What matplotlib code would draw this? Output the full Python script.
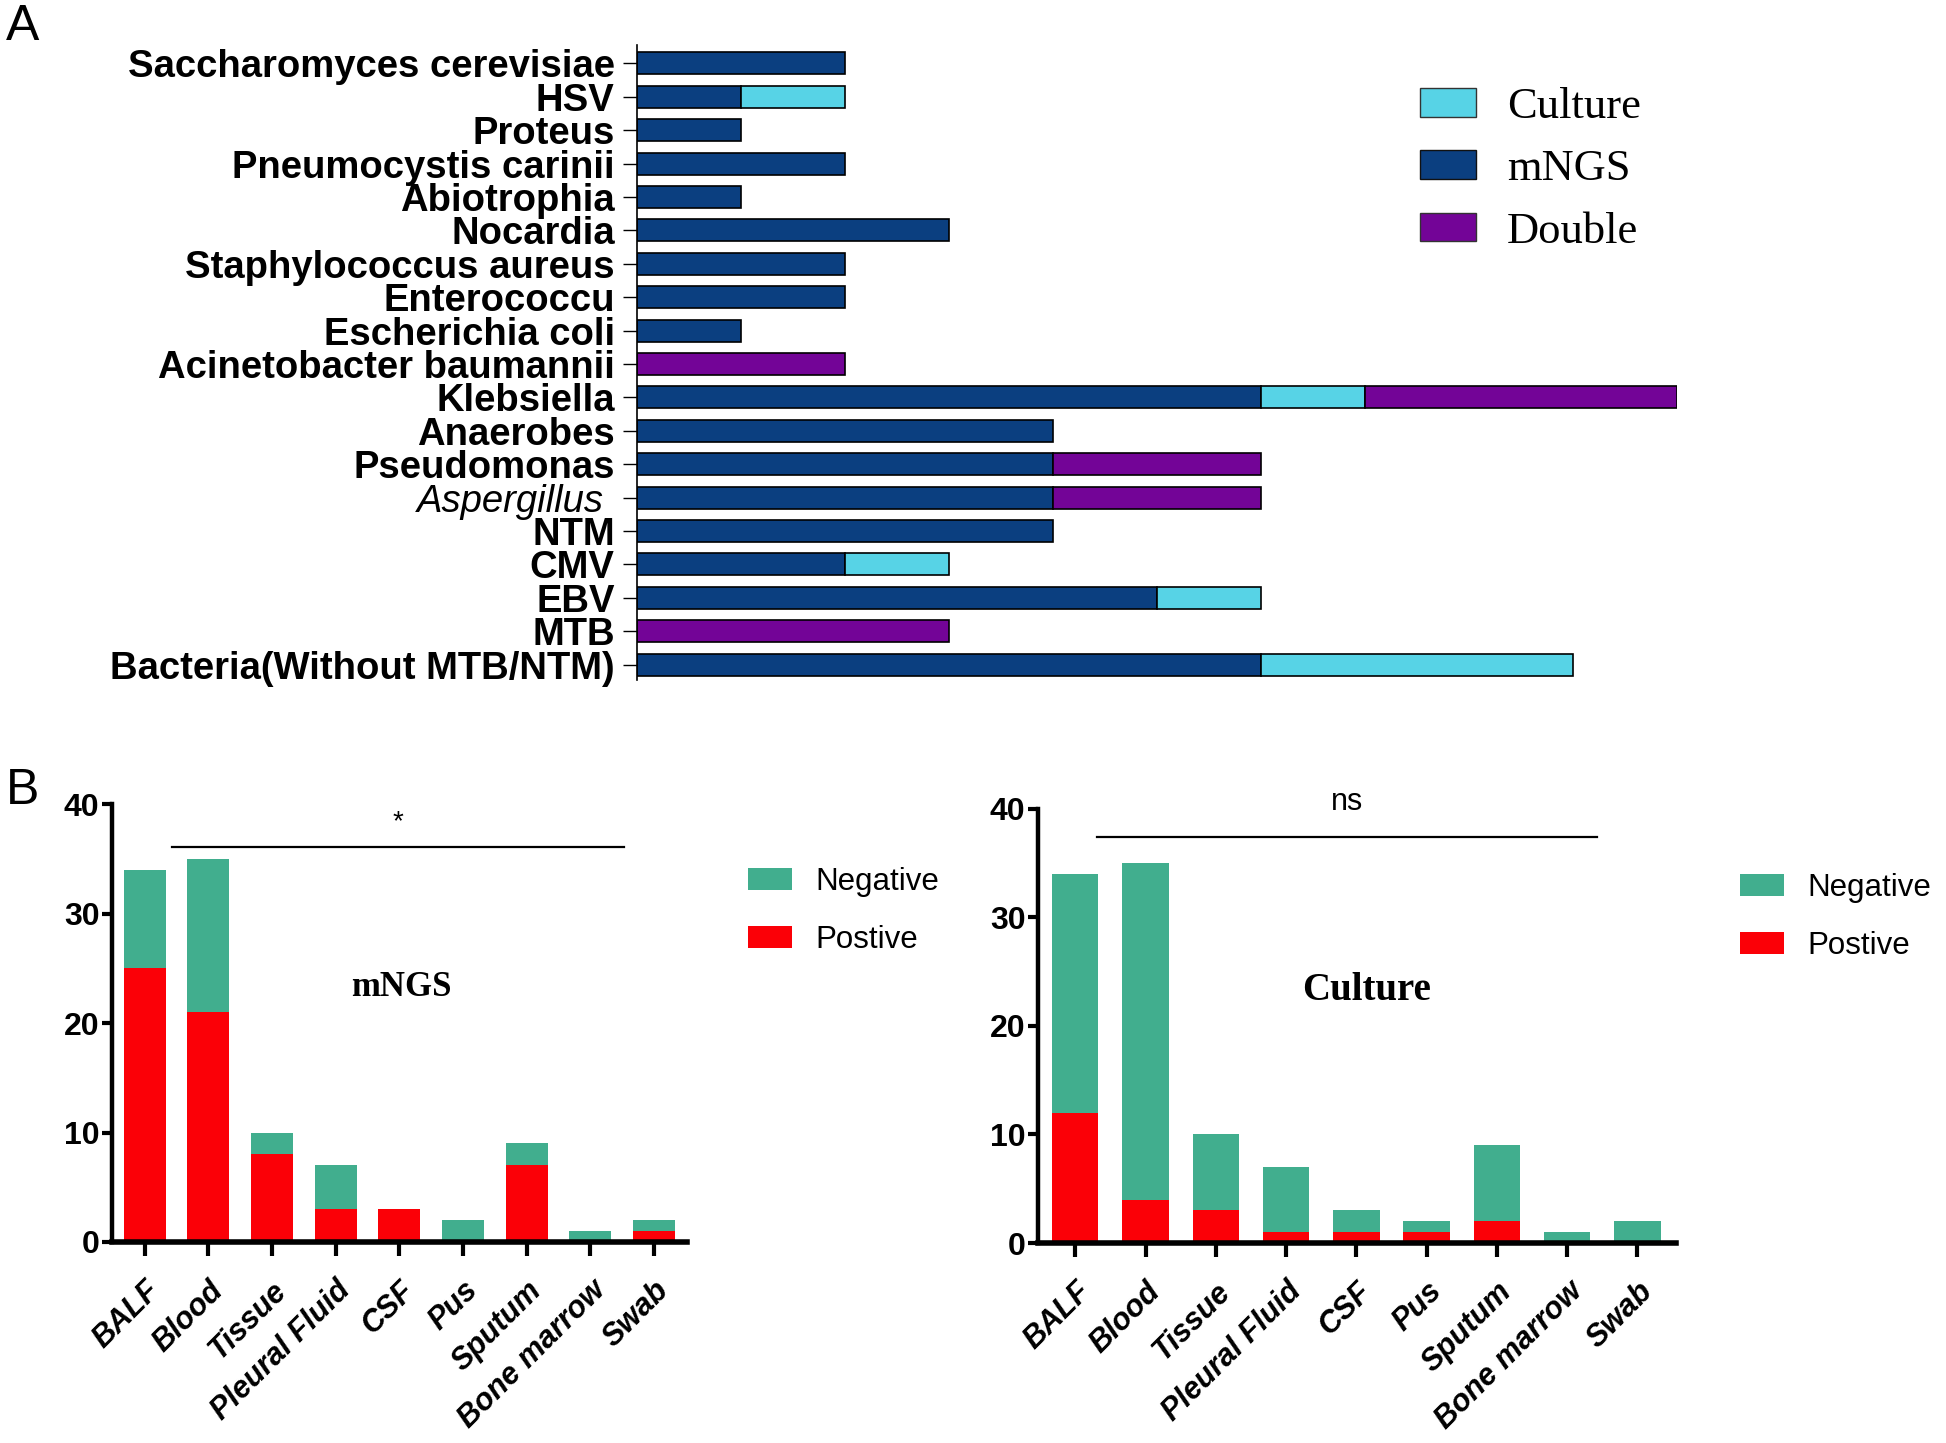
import numpy as np
import matplotlib
matplotlib.use('Agg')
import matplotlib.pyplot as plt
from matplotlib.patches import Patch

# ---- panel A data (top to bottom) ----
pathogens = ['Saccharomyces cerevisiae', 'HSV', 'Proteus', 'Pneumocystis carinii',
             'Abiotrophia', 'Nocardia', 'Staphylococcus aureus', 'Enterococcu',
             'Escherichia coli', 'Acinetobacter baumannii', 'Klebsiella', 'Anaerobes',
             'Pseudomonas', 'Aspergillus ', 'NTM', 'CMV', 'EBV', 'MTB',
             'Bacteria(Without MTB/NTM)']
mngs_only = [2, 1, 1, 2, 1, 3, 2, 2, 1, 0, 6, 4, 4, 4, 4, 2, 5, 0, 6]
culture_only = [0, 1, 0, 0, 0, 0, 0, 0, 0, 0, 1, 0, 0, 0, 0, 1, 1, 0, 3]
double_pos = [0, 0, 0, 0, 0, 0, 0, 0, 0, 2, 3, 0, 2, 2, 0, 0, 0, 3, 0]

# ---- panel B data ----
specimens = ['BALF', 'Blood', 'Tissue', 'Pleural Fluid', 'CSF', 'Pus', 'Sputum',
             'Bone marrow', 'Swab']
totals = [34, 35, 10, 7, 3, 2, 9, 1, 2]
mngs_pos = [25, 21, 8, 3, 3, 0, 7, 0, 1]
culture_pos = [12, 4, 3, 1, 1, 1, 2, 0, 0]

C_MNGS = '#0B3F80'
C_CULT = '#57D3E6'
C_DOUB = '#730497'
C_NEG = '#41AE8E'
C_POS = '#FB0007'

NARROW = ['Liberation Sans Narrow', 'Liberation Sans', 'DejaVu Sans']
SANS = ['Liberation Sans', 'DejaVu Sans']
SERIF = ['Liberation Serif', 'DejaVu Serif']

plt.rcParams['font.family'] = SANS

fig = plt.figure(figsize=(19.46, 14.43), dpi=100)

# ================= panel A =================
axA = fig.add_axes([0.3273, 0.5288, 0.8618 - 0.3273, 0.9688 - 0.5288])
y = np.arange(len(pathogens))
m = np.array(mngs_only)
c = np.array(culture_only)
d = np.array(double_pos)

def hbars(ax, left, width, color):
    idx = np.where(width > 0)[0]
    ax.barh(y[idx], width[idx], left=left[idx], height=0.66, color=color,
            edgecolor='black', linewidth=1.2)

hbars(axA, np.zeros_like(m), m, C_MNGS)
hbars(axA, m, c, C_CULT)
hbars(axA, m + c, d, C_DOUB)

axA.set_xlim(0, 10)
axA.set_ylim(len(pathogens) - 1 + 0.46, -0.55)
for s in ['top', 'right', 'bottom']:
    axA.spines[s].set_visible(False)
axA.spines['left'].set_linewidth(1.2)
axA.set_xticks([])
axA.set_yticks(y)
axA.set_yticklabels(pathogens, fontsize=27.5, fontweight='bold', family=SANS)
axA.tick_params(axis='y', length=10, width=1.0, pad=6)
for lab in axA.get_yticklabels():
    if lab.get_text().startswith('Aspergillus'):
        lab.set_fontstyle('italic')
        lab.set_fontweight('normal')

legA = [Patch(facecolor=C_CULT, edgecolor='#333333', label='Culture'),
        Patch(facecolor=C_MNGS, edgecolor='#111111', label='mNGS'),
        Patch(facecolor=C_DOUB, edgecolor='#333333', label='Double')]
fig.legend(handles=legA, loc='upper left', bbox_to_anchor=(0.7185, 0.955),
           frameon=False, prop={'family': SERIF, 'size': 32},
           handlelength=1.25, handleheight=0.62, handletextpad=0.7,
           labelspacing=0.5, borderpad=0)

fig.text(0.003, 0.997, 'A', fontsize=36, va='top', ha='left', family=SANS)
fig.text(0.003, 0.468, 'B', fontsize=36, va='top', ha='left', family=SANS)

# ================= panel B =================
def stacked(rect, pos, xr, title, title_xy, title_size, sig_text, sig_xs, sig_y,
            sig_text_y, sig_size, leg_anchor):
    ax = fig.add_axes(rect)
    x = np.arange(len(specimens))
    tot = np.array(totals)
    p = np.array(pos)
    ax.bar(x, p, width=0.66, color=C_POS, linewidth=0)
    ax.bar(x, tot - p, bottom=p, width=0.66, color=C_NEG, linewidth=0)
    ax.set_xlim(*xr)
    ax.set_ylim(0, 40)
    for s in ['top', 'right']:
        ax.spines[s].set_visible(False)
    ax.spines['left'].set_linewidth(3.2)
    ax.spines['bottom'].set_linewidth(4.0)
    ax.set_yticks([0, 10, 20, 30, 40])
    ax.set_yticklabels(['0', '10', '20', '30', '40'], fontsize=23,
                       fontweight='bold', family=NARROW)
    ax.tick_params(axis='y', length=7, width=3, pad=2)
    ax.set_xticks(x)
    ax.set_xticklabels(specimens, rotation=45, ha='right', rotation_mode='anchor',
                       fontsize=22, fontweight='bold', fontstyle='italic')
    ax.tick_params(axis='x', length=10, width=3, pad=14)
    ax.plot(sig_xs, [sig_y, sig_y], color='black', lw=1.6, clip_on=False)
    ax.text(np.mean(sig_xs), sig_text_y, sig_text, ha='center', va='center',
            fontsize=sig_size, clip_on=False)
    ax.text(title_xy[0], title_xy[1], title, ha='center', va='center',
            fontsize=title_size, fontweight='bold', family=SERIF)
    handles = [Patch(facecolor=C_NEG, label='Negative'),
               Patch(facecolor=C_POS, label='Postive')]
    fig.legend(handles=handles, loc='upper left', bbox_to_anchor=leg_anchor,
               frameon=False, fontsize=22.5, handlelength=1.4, handleheight=0.7,
               handletextpad=0.75, labelspacing=0.9, borderpad=0)
    return ax

stacked([0.0576, 0.1393, 0.353 - 0.0576, 0.4428 - 0.1393], mngs_pos, (-0.51, 8.52),
        'mNGS', (4.04, 23.2), 25, '*', [0.43, 7.53], 36.1, 38.3, 20,
        (0.3765, 0.410))
stacked([0.5334, 0.1386, 0.8613 - 0.5334, 0.4394 - 0.1386], culture_pos, (-0.53, 8.55),
        'Culture', (4.15, 23.3), 28, 'ns', [0.31, 7.42], 37.4, 40.6, 22,
        (0.886, 0.406))

fig.savefig('out.png', dpi=100, facecolor='white')
